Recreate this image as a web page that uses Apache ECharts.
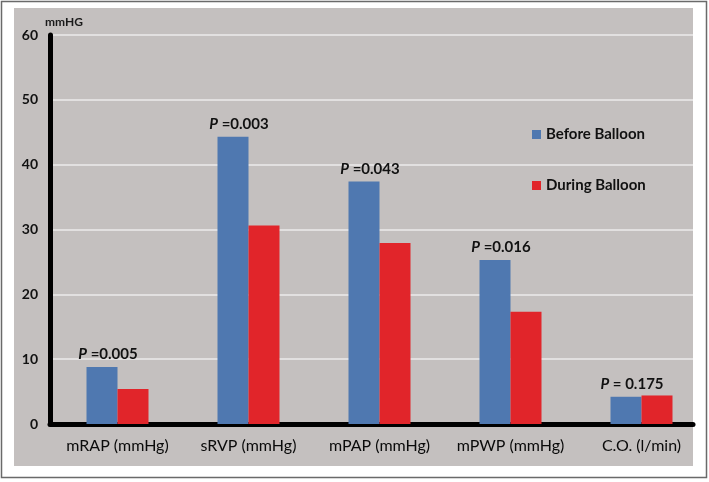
<!DOCTYPE html>
<html>
<head>
<meta charset="utf-8">
<script src="https://cdn.jsdelivr.net/npm/echarts@6/dist/echarts.min.js"></script>
<style>html,body{margin:0;padding:0;background:#fff}#c{width:709px;height:482px}</style>
</head>
<body>
<div id="c"></div>
<script>
var categories = ['mRAP (mmHg)', 'sRVP (mmHg)', 'mPAP (mmHg)', 'mPWP (mmHg)', 'C.O. (l/min)'];
var beforeBalloon = [8.8, 44.3, 37.4, 25.3, 4.2];
var duringBalloon = [5.4, 30.6, 27.9, 17.3, 4.4];
var pValues = ['=0.005', '=0.003', '=0.043', '=0.016', '= 0.175'];
var yTicks = [0, 10, 20, 30, 40, 50, 60];
var seriesNames = ['Before Balloon', 'During Balloon'];

var chart = echarts.init(document.getElementById('c'), null, {renderer: 'canvas'});
var FONT = 'Lato, "Liberation Sans", sans-serif';
var option = {
  animation: false,
  backgroundColor: '#ffffff',
  graphic: [
    {type: 'rect', z: -20, silent: true, shape: {x: 1.5, y: 1.5, width: 705, height: 476}, style: {fill: '#ffffff', stroke: '#6a6a6a', lineWidth: 1.5}},
    {type: 'rect', z: -10, silent: true, shape: {x: 14, y: 8, width: 679, height: 458}, style: {fill: '#c4c0bf'}},
    {type: 'text', z: 5, left: 45, top: 16, style: {text: 'mmHG', font: 'bold 12px ' + FONT, fill: '#1a1a1a'}}
  ],
  legend: {
    orient: 'vertical', left: 527, top: 122, itemWidth: 9, itemHeight: 9, itemGap: 36,
    icon: 'rect', data: seriesNames,
    textStyle: {fontFamily: FONT, fontWeight: 'bold', fontSize: 15, color: '#111'}
  },
  grid: [
    {left: 50, right: 16, top: 35, bottom: 58},
    {left: 52, width: 655, top: 35, bottom: 58}
  ],
  xAxis: [
    {type: 'category', gridIndex: 0, data: categories, axisLine: {show: true, lineStyle: {color: '#000', width: 5}},
      axisTick: {show: false}, axisLabel: {show: false}, splitLine: {show: false}},
    {type: 'category', gridIndex: 1, data: categories, axisLine: {show: false}, axisTick: {show: false},
      axisLabel: {interval: 0, margin: 14, fontFamily: FONT, fontSize: 16, color: '#0a0a0a'}}
  ],
  yAxis: [
    {type: 'value', gridIndex: 0, min: yTicks[0], max: yTicks[yTicks.length - 1], interval: 10,
      axisLine: {show: true, lineStyle: {color: '#000', width: 5}}, axisTick: {show: false},
      axisLabel: {margin: 12, fontFamily: FONT, fontWeight: 'bold', fontSize: 14, color: '#111'},
      splitLine: {show: true, lineStyle: {color: '#ecebeb', width: 1.5}}},
    {type: 'value', gridIndex: 1, min: yTicks[0], max: yTicks[yTicks.length - 1], interval: 10, show: false}
  ],
  series: [
    {name: seriesNames[0], type: 'bar', xAxisIndex: 1, yAxisIndex: 1, data: beforeBalloon, barWidth: 31, barGap: '0%',
      itemStyle: {color: '#4f78b0'}, z: 3,
      label: {show: true, position: 'top', distance: 5, offset: [6, 0],
        formatter: function (p) { return '{p|P} ' + pValues[p.dataIndex]; },
        fontFamily: FONT, fontWeight: 'bold', fontSize: 15, color: '#111',
        rich: {p: {fontFamily: FONT, fontWeight: 'bold', fontStyle: 'italic', fontSize: 15, color: '#111'}}}},
    {name: seriesNames[1], type: 'bar', xAxisIndex: 1, yAxisIndex: 1, data: duringBalloon, barWidth: 31, barGap: '0%',
      itemStyle: {color: '#e1252a'}, z: 3}
  ]
};
chart.setOption(option);
</script>
</body>
</html>
